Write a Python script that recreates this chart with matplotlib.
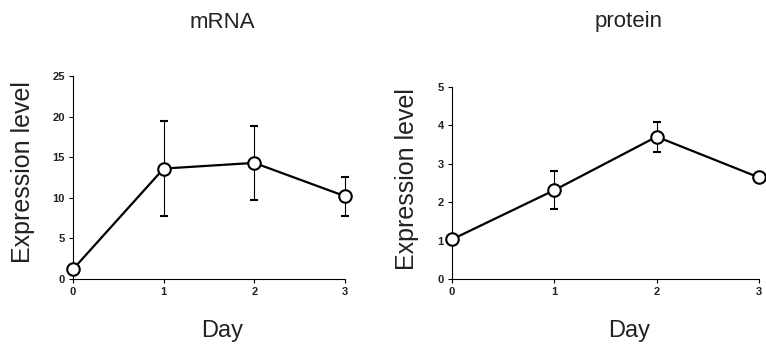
import matplotlib
matplotlib.use("Agg")
import matplotlib.pyplot as plt

plt.rcParams['font.family'] = ['Liberation Sans', 'DejaVu Sans']

days = [0, 1, 2, 3]

mrna_mean = [1.2, 13.6, 14.3, 10.2]
mrna_err = [0.0, 5.8, 4.6, 2.4]

protein_mean = [1.03, 2.31, 3.70, 2.64]
protein_err = [0.0, 0.5, 0.39, 0.05]

W, H = 766, 349
fig = plt.figure(figsize=(W / 100, H / 100), dpi=100)

ax1 = fig.add_axes([73/W, 1-279/H, (345-73)/W, (279-76)/H])
ax2 = fig.add_axes([452/W, 1-279/H, (759-452)/W, (279-86.7)/H])


def draw(ax, y, err, ymax, title, cx, ylab_x, ylab_y):
    ax.errorbar(days, y, yerr=err, color="black", lw=1.6, marker="o",
                ms=9, mfc="white", mec="black", mew=1.5,
                ecolor="black", elinewidth=0.8, capsize=3, capthick=0.8,
                clip_on=False, zorder=3)
    ax.set_xlim(0, 3)
    ax.set_ylim(0, ymax)
    ax.set_xticks(days)
    ax.set_yticks(range(0, ymax + 1, 5 if ymax > 5 else 1))
    for s in ["top", "right"]:
        ax.spines[s].set_visible(False)
    ax.tick_params(length=3, width=0.8, labelsize=8, pad=3)
    for lab in ax.get_xticklabels() + ax.get_yticklabels():
        lab.set_fontweight("bold")
        lab.set_color("#222222")
    # titles and axis labels sit off-centre in the original
    fig.text(cx / W, 1 - 22/H, title, fontsize=16, ha="center",
             va="center", color="#222222")
    fig.text(cx / W, 1 - 331/H, "Day", fontsize=17, ha="center",
             va="center", color="#222222")
    fig.text(ylab_x / W, 1 - ylab_y / H, "Expression level", fontsize=18,
             rotation=90, ha="center", va="center", color="#222222")


draw(ax1, mrna_mean, mrna_err, 25, "mRNA", 222, 23, 172)
draw(ax2, protein_mean, protein_err, 5, "protein", 629, 407, 179)

fig.savefig("out.png", dpi=100)
